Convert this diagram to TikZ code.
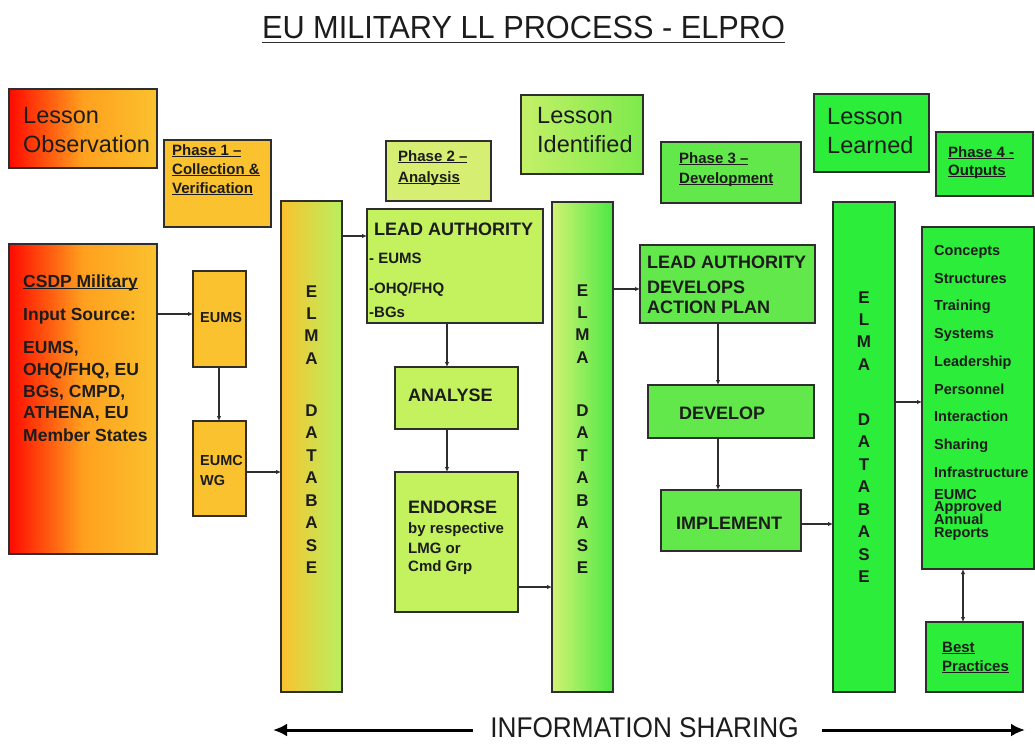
\documentclass[tikz,border=0pt]{standalone}
\usepackage{fontspec}
\setmainfont{Liberation Sans}
\newfontfamily\titlefont[FakeStretch=0.96]{Liberation Sans}
\newfontfamily\infofont[FakeStretch=0.92]{Liberation Sans}
\newsavebox\ulbox
\newcommand\myul[1]{\sbox\ulbox{#1}\rlap{\rule[-2.2pt]{\wd\ulbox}{1pt}}\usebox\ulbox}
\usetikzlibrary{arrows.meta}
\definecolor{cred}{HTML}{FF0A00}
\definecolor{corange}{HTML}{FFA01E}
\definecolor{cyel}{HTML}{FAC22E}
\definecolor{clgreen}{HTML}{B8F060}
\definecolor{cpale}{HTML}{D6EF72}
\definecolor{clime}{HTML}{C3F25E}
\definecolor{cmid}{HTML}{62E84A}
\definecolor{cbright}{HTML}{2CEE3A}
\definecolor{clidl}{HTML}{C4F068}
\definecolor{clidr}{HTML}{7EEA4C}
\definecolor{celmal}{HTML}{D2F272}
\definecolor{celmar}{HTML}{4CE845}
\definecolor{cline}{HTML}{2E2E2E}
\definecolor{ctext}{HTML}{1C1C1C}
\newcommand\bx[6]{\pgfmathsetmacro\bw{#4-#2}\pgfmathsetmacro\bh{#5-#3}%
  \node[#6,minimum width=\bw pt,minimum height=\bh pt] (#1) at (#2,#3) {};}
\newcommand\tl[5]{\node[lbl,#4] (#1) at (#2,#3) {#5};}
\newcommand\elmaletters[4]{%
  \foreach \c [count=\i from 0] in {E,L,M,A} \node[elmaltr] (#1a\i) at (#2,#3+22.4*\i) {\c};
  \foreach \c [count=\i from 0] in {D,A,T,A,B,A,S,E} \node[elmaltr] (#1b\i) at (#2,#4+22.5*\i) {\c};}
\tikzset{
  boxbase/.style={draw=cline, line width=1.6pt, inner sep=0pt, outer sep=0pt, anchor=north west},
  redbox/.style={boxbase, left color=cred, right color=cyel, middle color=corange},
  yelbox/.style={boxbase, fill=cyel},
  elmaonebox/.style={boxbase, left color=cyel, right color=clgreen},
  palebox/.style={boxbase, fill=cpale},
  lidbox/.style={boxbase, left color=clidl, right color=clidr},
  limebox/.style={boxbase, fill=clime},
  elmatwobox/.style={boxbase, left color=celmal, right color=celmar},
  midbox/.style={boxbase, fill=cmid},
  brightbox/.style={boxbase, fill=cbright},
  lbl/.style={anchor=base west, inner sep=0pt, text=ctext},
  lessonf/.style={font=\fontsize{23.5}{23.5}\selectfont},
  phasef/.style={font=\bfseries\fontsize{15}{15}\selectfont},
  csdpf/.style={font=\bfseries\fontsize{17.5}{17.5}\selectfont},
  smallb/.style={font=\bfseries\fontsize{14.5}{14.5}\selectfont},
  midb/.style={font=\bfseries\fontsize{15}{15}\selectfont},
  headb/.style={font=\bfseries\fontsize{18}{18}\selectfont},
  elmaltr/.style={anchor=base, inner sep=0pt, text=ctext, font=\bfseries\fontsize{17}{17}\selectfont},
  arr/.style={draw=cline, line width=1.2pt, -{Latex[length=5pt,width=4.5pt]}},
  dblarr/.style={draw=cline, line width=1.2pt, {Latex[length=5pt,width=4.5pt]}-{Latex[length=5pt,width=4.5pt]}},
  bigarr/.style={draw=black, line width=3pt, -{Latex[length=14pt,width=13pt]}}
}
\begin{document}
\begin{tikzpicture}[x=1pt,y=-1pt]
\useasboundingbox (0,0) rectangle (1035,744);
\fill[white] (0,0) rectangle (1035,744);

% title
\node[anchor=base, inner sep=0pt, text=ctext, font=\titlefont\fontsize{32}{32}\selectfont] (title) at (523.5,38) {EU MILITARY LL PROCESS - ELPRO};
\draw[line width=1.8pt, cline] ([yshift=-4.5pt]title.base west) -- ([yshift=-4.5pt]title.base east);

% boxes
\bx{lobs}{9}{89}{157}{168}{redbox}
\bx{ph1}{164}{140}{271}{227}{yelbox}
\bx{csdp}{9}{244}{157}{554}{redbox}
\bx{eums}{193}{271}{246}{367}{yelbox}
\bx{eumc}{193}{421}{246}{516}{yelbox}
\bx{elma1}{281}{201}{342}{692}{elmaonebox}
\bx{ph2}{386}{141}{491}{201}{palebox}
\bx{lid}{521}{95}{643}{174}{lidbox}
\bx{lead}{367}{209}{543}{323}{limebox}
\bx{analyse}{395}{367}{518}{429}{limebox}
\bx{endorse}{395}{472}{518}{612}{limebox}
\bx{elma2}{552}{202}{613}{692}{elmatwobox}
\bx{ph3}{661}{142}{801}{203}{midbox}
\bx{lln}{814}{94}{929}{172}{brightbox}
\bx{ph4}{936}{132}{1033}{196}{brightbox}
\bx{lad}{640}{245}{815}{323}{midbox}
\bx{develop}{648}{385}{814}{438}{midbox}
\bx{implement}{661}{490}{801}{551}{midbox}
\bx{elma3}{833}{202}{895}{692}{brightbox}
\bx{outputs}{922}{227}{1034}{569}{brightbox}
\bx{best}{926}{622}{1023}{692}{brightbox}

% lesson labels
\tl{lobs1}{23}{123}{lessonf}{Lesson}
\tl{lobs2}{23}{152}{lessonf}{Observation}
\tl{lid1}{537}{123}{lessonf}{Lesson}
\tl{lid2}{537}{152}{lessonf}{Identified}
\tl{lln1}{827}{124}{lessonf}{Lesson}
\tl{lln2}{827}{153}{lessonf}{Learned}

% phase labels
\tl{ph1a}{172}{155}{phasef}{\myul{Phase 1 –}}
\tl{ph1b}{172}{174}{phasef}{\myul{Collection \&}}
\tl{ph1c}{172}{193}{phasef}{\myul{Verification}}
\tl{ph2a}{398}{161}{phasef}{\myul{Phase 2 –}}
\tl{ph2b}{398}{182}{phasef}{\myul{Analysis}}
\tl{ph3a}{679}{163}{phasef}{\myul{Phase 3 –}}
\tl{ph3b}{679}{183}{phasef}{\myul{Development}}
\tl{ph4a}{948}{157}{phasef}{\myul{Phase 4 -}}
\tl{ph4b}{948}{175}{phasef}{\myul{Outputs}}
\tl{best1}{942}{652}{phasef}{\myul{Best}}
\tl{best2}{942}{671}{phasef}{\myul{Practices}}

% CSDP
\tl{cs1}{23}{287}{csdpf}{\myul{CSDP Military}}
\tl{cs2}{23}{320}{csdpf}{Input Source:}
\tl{cs3}{23}{353}{csdpf}{EUMS,}
\tl{cs4}{23}{375}{csdpf}{OHQ/FHQ, EU}
\tl{cs5}{23}{397}{csdpf}{BGs, CMPD,}
\tl{cs6}{23}{418}{csdpf}{ATHENA, EU}
\tl{cs7}{23}{441}{csdpf}{Member States}

\tl{eums1}{200}{322}{smallb}{EUMS}
\tl{eumc1}{200}{465}{smallb}{EUMC}
\tl{eumc2}{200}{485}{smallb}{WG}

% phase 2 texts
\tl{lead1}{374}{235}{headb}{LEAD AUTHORITY}
\tl{lead2}{369}{263}{midb}{- EUMS}
\tl{lead3}{369}{293}{midb}{-OHQ/FHQ}
\tl{lead4}{369}{317}{midb}{-BGs}
\tl{an1}{408}{401}{headb}{ANALYSE}
\tl{en1}{408}{513}{headb}{ENDORSE}
\tl{en2}{408}{533}{midb}{by respective}
\tl{en3}{408}{553}{midb}{LMG or}
\tl{en4}{408}{571}{midb}{Cmd Grp}

% phase 3 texts
\tl{lad1}{647}{268}{headb}{LEAD AUTHORITY}
\tl{lad2}{647}{293}{headb}{DEVELOPS}
\tl{lad3}{647}{313}{headb}{ACTION PLAN}
\tl{dev1}{679}{419}{headb}{DEVELOP}
\tl{imp1}{676}{529}{headb}{IMPLEMENT}

% outputs
\foreach \w [count=\i from 0] in {Concepts,Structures,Training,Systems,Leadership,Personnel,Interaction,Sharing,Infrastructure}
  \node[lbl, smallb] (out\i) at (934,255.5+27.7*\i) {\w};
\foreach \w [count=\i from 0] in {EUMC,Approved,Annual,Reports}
  \node[lbl, smallb] (rep\i) at (934,499+12.7*\i) {\w};

% ELMA letters
\elmaletters{ea}{311.5}{297}{416}
\elmaletters{eb}{582.5}{296}{416}
\elmaletters{ec}{864}{303}{425}

% connectors
\draw[arr] (csdp.east |- 0,314) -- (eums.west |- 0,314);
\draw[arr] (eums.south -| 219,0) -- (eumc.north -| 219,0);
\draw[arr] (eumc.east |- 0,472) -- (elma1.west |- 0,472);
\draw[arr] (elma1.east |- 0,236) -- (lead.west |- 0,236);
\draw[arr] (lead.south -| 447,0) -- (analyse.north -| 447,0);
\draw[arr] (analyse.south -| 447,0) -- (endorse.north -| 447,0);
\draw[arr] (endorse.east |- 0,587) -- (elma2.west |- 0,587);
\draw[arr] (elma2.east |- 0,289) -- (lad.west |- 0,289);
\draw[arr] (lad.south -| 718,0) -- (develop.north -| 718,0);
\draw[arr] (develop.south -| 718,0) -- (implement.north -| 718,0);
\draw[arr] (implement.east |- 0,524) -- (elma3.west |- 0,524);
\draw[arr] (elma3.east |- 0,402) -- (outputs.west |- 0,402);
\draw[dblarr] (outputs.south -| 963,0) -- (best.north -| 963,0);

% information sharing
\node[anchor=base, inner sep=0pt, text=ctext, font=\infofont\fontsize{28.5}{28.5}\selectfont] (info) at (644.5,737) {INFORMATION SHARING};
\coordinate (infoL) at (273,730);
\coordinate (infoLe) at (473,730);
\coordinate (infoRs) at (822,730);
\coordinate (infoR) at (1025,730);
\draw[bigarr] (infoLe) -- (infoL);
\draw[bigarr] (infoRs) -- (infoR);
\end{tikzpicture}
\end{document}
